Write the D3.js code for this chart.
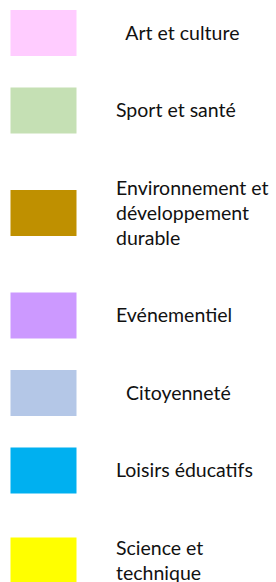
<html>
<script src="https://d3js.org/d3.v7.min.js"></script>
<body style="margin:0;background:#fff">
<div id="chart-container"></div>
<script>
// Legend entries (lines of each label) and their fill colours
var categories = [
	["\u00a0\u00a0Art et culture"],
	["Sport et santé"],
	["Environnement et", "développement", "durable"],
	["Evénementiel"],
	["\u00a0\u00a0Citoyenneté"],
	["Loisirs éducatifs"],
	["Science et", "technique"]
]
var colors = ["#FFCCFF", "#C5E0B4", "#BF9000", "#CC99FF", "#B4C7E7", "#00B0F0", "#FFFF00"]

const width = 276
const height = 582
const lineHeight = 25
const gap = 52.5
const startY = 20.5

// stack the text blocks one under another, each block as tall as its lines
var rows = []
var y = startY
categories.forEach(function(lines, i)
{
	var h = lines.length * lineHeight
	rows.push({lines: lines, color: colors[i], y0: y, h: h, mid: y + h / 2})
	y += h + gap
})

const svg = d3.select("#chart-container")
	.append("svg")
	.attr("width", width)
	.attr("height", height)

// swatch size taken from the band between legend rows
var swatch = d3.scaleLinear().domain([0, 1]).range([10.5, 76.5])
const boxH = 46

const item = svg.selectAll("g.item")
	.data(rows)
	.enter()
	.append("g")
	.attr("class", "item")

item.append("rect")
	.attr("x", swatch(0))
	.attr("y", d => d.mid - boxH / 2)
	.attr("width", swatch(1) - swatch(0))
	.attr("height", boxH)
	.attr("fill", d => d.color)

item.append("text")
	.attr("font-family", "Lato, 'Open Sans', sans-serif")
	.attr("font-size", 19.5)
	.attr("fill", "#111")
	.style("white-space", "pre")
	.selectAll("tspan")
	.data(d => d.lines.map((t, j) => ({t: t, y: d.y0 + j * lineHeight + lineHeight / 2 + 6.5})))
	.enter()
	.append("tspan")
	.attr("x", 116)
	.attr("y", d => d.y)
	.text(d => d.t)
</script>
</body>
</html>
